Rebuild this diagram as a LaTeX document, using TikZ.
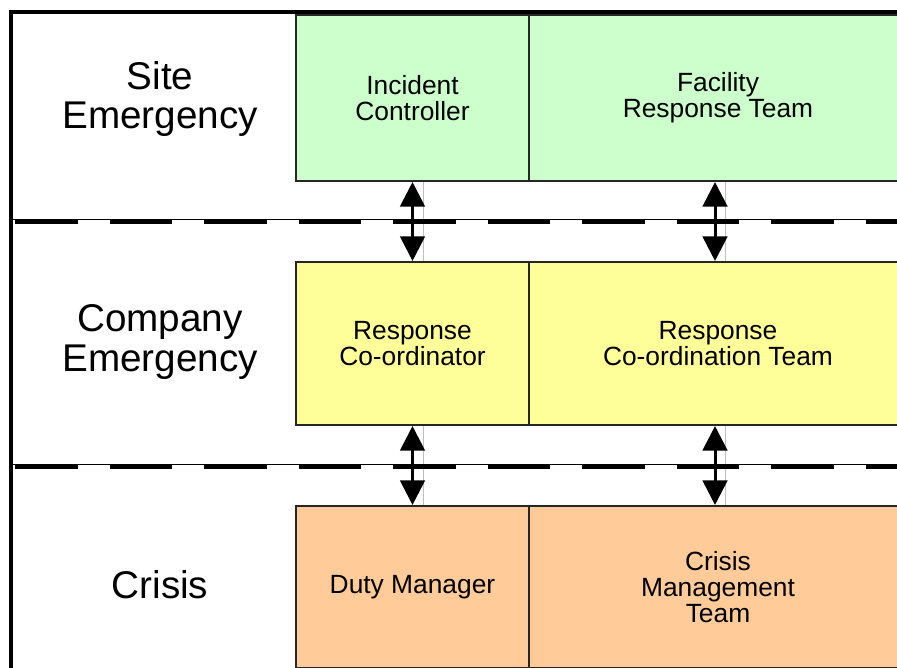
\documentclass[tikz,border=0pt]{standalone}
\usepackage{fontspec}
\setmainfont{Liberation Sans}
\usetikzlibrary{arrows.meta}
\definecolor{sitegreen}{HTML}{CCFFCC}
\definecolor{companyyellow}{HTML}{FFFF99}
\definecolor{crisisorange}{HTML}{FFCC99}

\begin{document}
\begin{tikzpicture}[x=0.02cm, y=-0.02cm,
  level/.style={font=\fontsize{22}{22.7}\selectfont, align=center},
  role/.style={draw=black!85, line width=1.2pt, font=\fontsize{15}{15}\selectfont, align=center, inner sep=0pt},
  narrow/.style={role, minimum width=4.66cm},
  wide/.style={role, minimum width=7.56cm},
  linkarrow/.style={line width=1.7pt, {Triangle[width=14pt,length=14pt]}-{Triangle[width=14pt,length=14pt]}},
  linkshade/.style={gray!50, line width=0.5pt},
  tierline/.style={line width=2.8pt, dash pattern=on 35.7pt off 18.1pt}]
    \clip (0,0) rectangle (897,668);
    % outer frame
    \draw[line width=2.3pt] (11,668) -- (11,12) -- (897,12);
    % levels
    \node[level] (site) at (160,99) {Site\\Emergency};
    \node[level] (company) at (160,342) {Company\\Emergency};
    \node[level] (crisis) at (160,585) {Crisis};
    % roles
    \node[narrow, fill=sitegreen, minimum height=3.32cm] (ic) at (412.5,98) {Incident\\Controller};
    \node[wide, fill=sitegreen, minimum height=3.32cm] (frt) at (718,98) {Facility\\Response Team};
    \node[narrow, fill=companyyellow, minimum height=3.26cm] (rc) at (412.5,343.5) {Response\\Co-ordinator};
    \node[wide, fill=companyyellow, minimum height=3.26cm] (rct) at (718,343.5) {Response\\Co-ordination Team};
    \node[narrow, fill=crisisorange, minimum height=3.24cm] (dm) at (412.5,587) {Duty Manager};
    \node[wide, fill=crisisorange, minimum height=3.24cm] (cmt) at (718,587) {Crisis\\Management\\Team};
    % links between levels
    \foreach \a/\b in {ic/rc, rc/dm} {
        \draw[linkshade] ([xshift=6pt]\a.south) -- ([xshift=6pt]\b.north);
        \draw[linkarrow] (\a.south) -- (\b.north);
    }
    \foreach \a/\b in {frt/rct, rct/cmt} {
        \draw[linkshade] ([xshift=4pt]\a.south) -- ([xshift=4pt]\b.north);
        \draw[linkarrow] ([xshift=-1.7pt]\a.south) -- ([xshift=-1.7pt]\b.north);
    }
    % level borders
    \foreach \y in {219.5,464.5} {
        \draw[line width=0.5pt] (13,\y) -- (897,\y);
        \draw[tierline] (15,\y+2.5) -- (897,\y+2.5);
    }
\end{tikzpicture}
\end{document}
